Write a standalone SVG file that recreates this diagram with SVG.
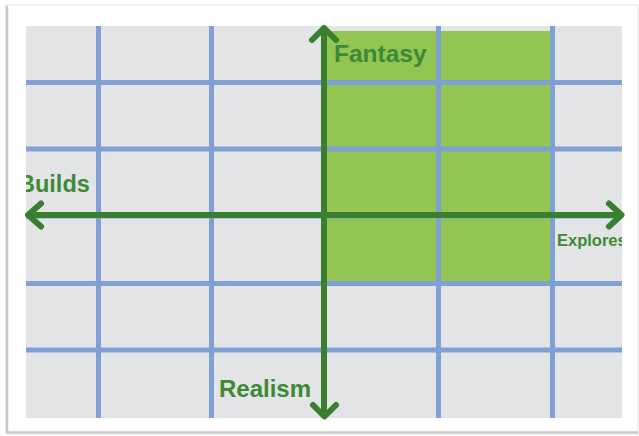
<svg xmlns="http://www.w3.org/2000/svg" width="639" height="436" viewBox="0 0 639 436">
  <style>
    .grid line { stroke: #7fa0d5; stroke-width: 5; }
    .axis { stroke: #3a7f30; stroke-width: 6; fill: none; stroke-linecap: round; stroke-linejoin: round; }
    .lbl { font-family: "Liberation Sans", Arial, sans-serif; font-weight: bold; fill: #3d8a36; }
  </style>
  <defs>
    <clipPath id="gridClip">
      <rect x="26" y="26" width="596" height="392"/>
    </clipPath>
  </defs>
  <g id="card">
    <rect x="0" y="0" width="639" height="436" fill="#ffffff"/>
    <rect x="6" y="5" width="632" height="429" fill="#ffffff" stroke="#e4e4e4" stroke-width="1"/>
    <line x1="7" y1="6" x2="7" y2="433" stroke="#c9c9c9" stroke-width="2.5"/>
    <line x1="7" y1="432.5" x2="638" y2="432.5" stroke="#c9c9c9" stroke-width="2.5"/>
  </g>
  <g id="grid-area">
    <rect x="26" y="26" width="596" height="392" fill="#e3e4e6"/>
    <rect id="quadrant" x="324" y="31" width="226" height="250" fill="#93c553"/>
    <g class="grid">
      <line x1="98.5" y1="26" x2="98.5" y2="418"/>
      <line x1="211.5" y1="26" x2="211.5" y2="418"/>
      <line x1="324.5" y1="26" x2="324.5" y2="418"/>
      <line x1="438.5" y1="26" x2="438.5" y2="418"/>
      <line x1="552.5" y1="26" x2="552.5" y2="418"/>
      <line x1="26" y1="82.5" x2="622" y2="82.5"/>
      <line x1="26" y1="149" x2="622" y2="149"/>
      <line x1="26" y1="216" x2="622" y2="216"/>
      <line x1="26" y1="283.5" x2="622" y2="283.5"/>
      <line x1="26" y1="350" x2="622" y2="350"/>
    </g>
  </g>
  <g id="connectors">
    <g id="axis-vertical">
      <line class="axis" x1="324" y1="29" x2="324" y2="415"/>
      <polyline class="axis" points="312,40 324,28 336,40"/>
      <polyline class="axis" points="313,405 324.5,416.5 336,405"/>
    </g>
    <g id="axis-horizontal">
      <line class="axis" x1="29" y1="215" x2="620" y2="215"/>
      <polyline class="axis" points="41,203.5 28,215 41,226.5"/>
      <polyline class="axis" points="609,203.5 621.5,215 609,226.5"/>
    </g>
  </g>
  <g id="label-fantasy">
    <text class="lbl" x="334" y="62" font-size="24.5">Fantasy</text>
  </g>
  <g id="label-builds" clip-path="url(#gridClip)">
    <text class="lbl" x="18" y="192" font-size="23.5">Builds</text>
  </g>
  <g id="label-realism">
    <text class="lbl" x="219" y="397" font-size="24">Realism</text>
  </g>
  <g id="label-explores" clip-path="url(#gridClip)">
    <text class="lbl" x="557" y="246" font-size="16.5">Explores</text>
  </g>
</svg>
